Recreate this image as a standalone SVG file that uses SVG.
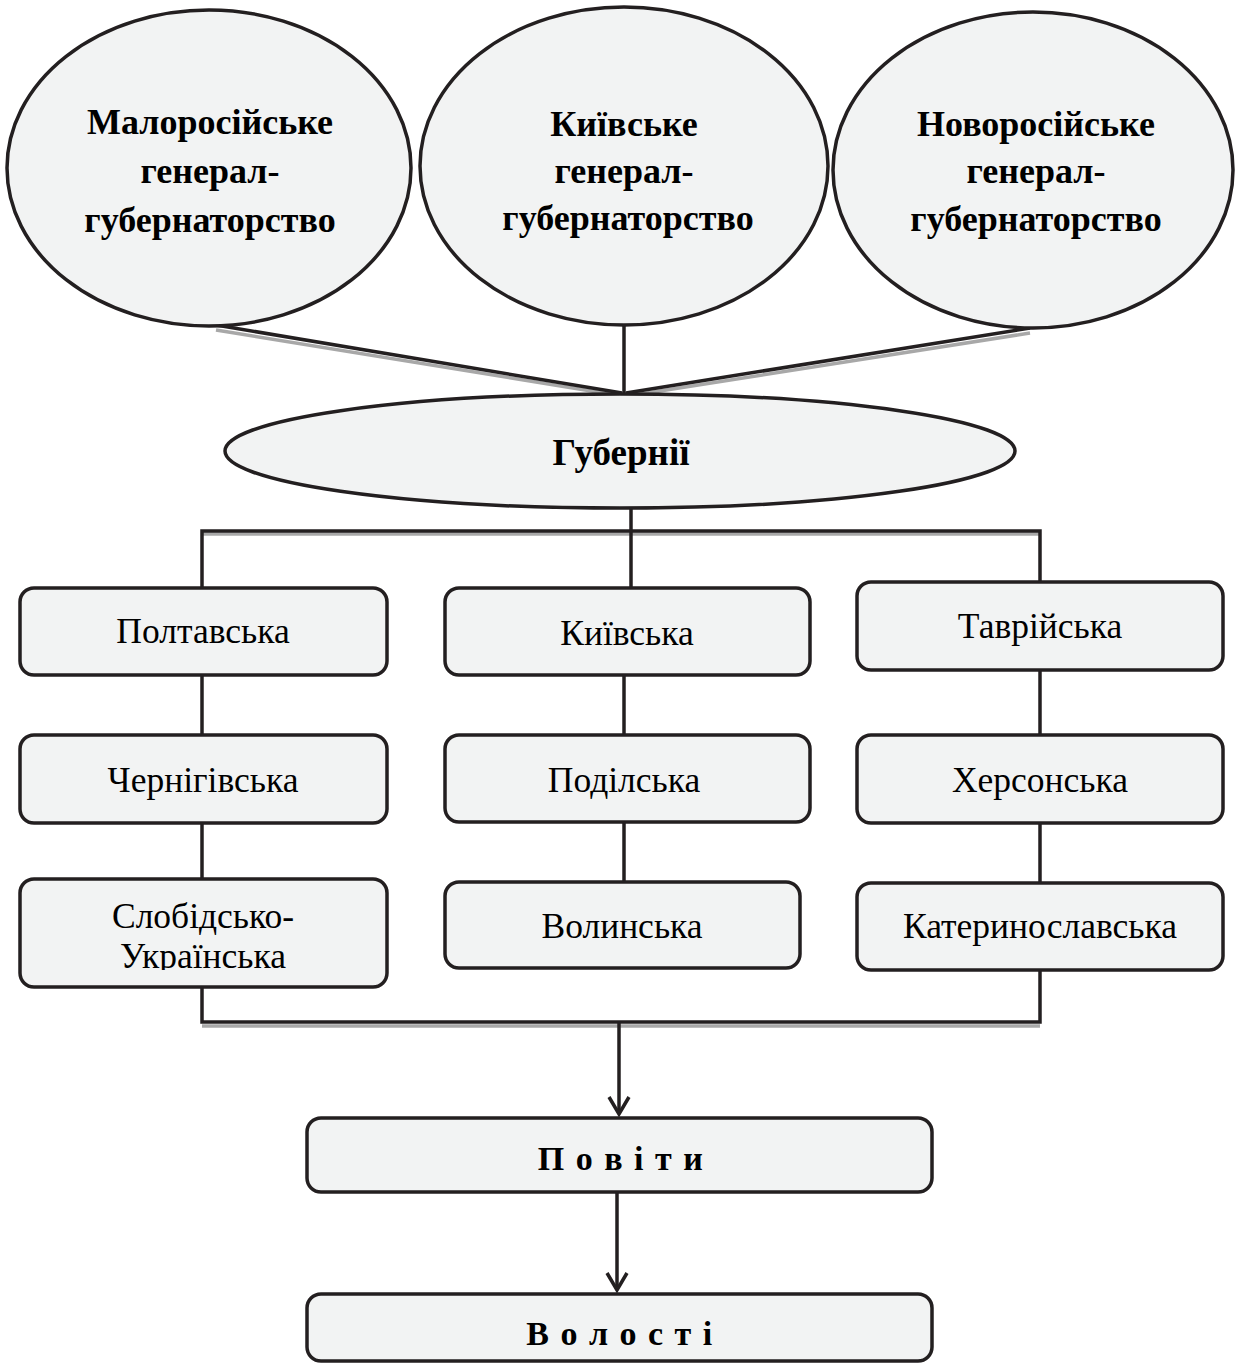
<svg xmlns="http://www.w3.org/2000/svg" width="1235" height="1364" viewBox="0 0 1235 1364">
<style>
.node{fill:#f2f3f3;stroke:#231f20;stroke-width:3.5}
.bt{font-family:"Liberation Serif","Times New Roman",serif;font-weight:bold;font-size:36px;fill:#000;text-anchor:middle}
.sp{font-size:34px;letter-spacing:1.5px}
.rt{font-family:"Liberation Serif","Times New Roman",serif;font-size:35.5px;fill:#000;text-anchor:middle}
.ln{stroke:#231f20;stroke-width:3.5;fill:none}
.sh{stroke:#a8a8a8;stroke-width:3.5;fill:none}
</style>
<defs>
<clipPath id="clipSlob"><rect x="20" y="878" width="367" height="92"/></clipPath>
</defs>
<rect width="1235" height="1364" fill="#fff"/>
<g id="connectors">
<line class="sh" x1="216" y1="330" x2="622" y2="396"/>
<line class="sh" x1="1030" y1="333" x2="628" y2="396"/>
<line class="sh" x1="202" y1="534" x2="1040" y2="534"/>
<line class="sh" x1="202" y1="1026" x2="1040" y2="1026"/>
<line class="ln" x1="216" y1="325" x2="622" y2="393"/>
<line class="ln" x1="624" y1="325" x2="624" y2="393"/>
<line class="ln" x1="1030" y1="328" x2="626" y2="393"/>
<line class="ln" x1="631" y1="508" x2="631" y2="531"/>
<polyline class="ln" points="202,588 202,531 1040,531 1040,582"/>
<line class="ln" x1="631" y1="531" x2="631" y2="588"/>
<line class="ln" x1="202" y1="675" x2="202" y2="735"/>
<line class="ln" x1="202" y1="823" x2="202" y2="879"/>
<line class="ln" x1="624" y1="675" x2="624" y2="735"/>
<line class="ln" x1="624" y1="822" x2="624" y2="882"/>
<line class="ln" x1="1040" y1="670" x2="1040" y2="735"/>
<line class="ln" x1="1040" y1="823" x2="1040" y2="883"/>
<polyline class="ln" points="202,987 202,1022 1040,1022 1040,970"/>
<line class="ln" x1="619" y1="1022" x2="619" y2="1114"/>
<polyline class="ln" points="609,1097 619,1114 629,1097"/>
<line class="ln" x1="617" y1="1192" x2="617" y2="1290"/>
<polyline class="ln" points="607,1273 617,1290 627,1273"/>
</g>
<g id="n-maloros">
<ellipse class="node" cx="209" cy="168" rx="202" ry="158"/>
<text class="bt" x="210" y="134">Малоросійське</text>
<text class="bt" x="210" y="183">генерал-</text>
<text class="bt" x="210" y="232">губернаторство</text>
</g>
<g id="n-kyiv-gg">
<ellipse class="node" cx="624" cy="166" rx="204" ry="159"/>
<text class="bt" x="624" y="136">Київське</text>
<text class="bt" x="624" y="183">генерал-</text>
<text class="bt" x="628" y="230">губернаторство</text>
</g>
<g id="n-novoros">
<ellipse class="node" cx="1033" cy="170" rx="200" ry="158"/>
<text class="bt" x="1036" y="136">Новоросійське</text>
<text class="bt" x="1036" y="183">генерал-</text>
<text class="bt" x="1036" y="231">губернаторство</text>
</g>
<g id="n-gubernii">
<ellipse class="node" cx="620" cy="451" rx="395" ry="57"/>
<text class="bt" x="621" y="465" style="font-size:37px">Губернії</text>
</g>
<g id="n-poltava">
<rect class="node" x="20" y="588" width="367" height="87" rx="14"/>
<text class="rt" x="203" y="643">Полтавська</text>
</g>
<g id="n-chernihiv">
<rect class="node" x="20" y="735" width="367" height="88" rx="14"/>
<text class="rt" x="203" y="792">Чернігівська</text>
</g>
<g id="n-sloboda">
<rect class="node" x="20" y="879" width="367" height="108" rx="14"/>
<g clip-path="url(#clipSlob)">
<text class="rt" x="203" y="928">Слобідсько-</text>
<text class="rt" x="203" y="968">Українська</text>
</g>
</g>
<g id="n-kyivska">
<rect class="node" x="445" y="588" width="365" height="87" rx="14"/>
<text class="rt" x="627" y="645">Київська</text>
</g>
<g id="n-podilska">
<rect class="node" x="445" y="735" width="365" height="87" rx="14"/>
<text class="rt" x="624" y="792">Поділська</text>
</g>
<g id="n-volynska">
<rect class="node" x="445" y="882" width="355" height="86" rx="14"/>
<text class="rt" x="622" y="938">Волинська</text>
</g>
<g id="n-tavriyska">
<rect class="node" x="857" y="582" width="366" height="88" rx="14"/>
<text class="rt" x="1040" y="638">Таврійська</text>
</g>
<g id="n-khersonska">
<rect class="node" x="857" y="735" width="366" height="88" rx="14"/>
<text class="rt" x="1040" y="792">Херсонська</text>
</g>
<g id="n-katerynoslavska">
<rect class="node" x="857" y="883" width="366" height="87" rx="14"/>
<text class="rt" x="1040" y="938">Катеринославська</text>
</g>
<g id="n-povity">
<rect class="node" x="307" y="1118" width="625" height="74" rx="14"/>
<text class="bt sp" x="621" y="1170">П о в і т и</text>
</g>
<g id="n-volosti">
<rect class="node" x="307" y="1294" width="625" height="67" rx="14"/>
<text class="bt sp" x="620" y="1345">В о л о с т і</text>
</g>
</svg>
